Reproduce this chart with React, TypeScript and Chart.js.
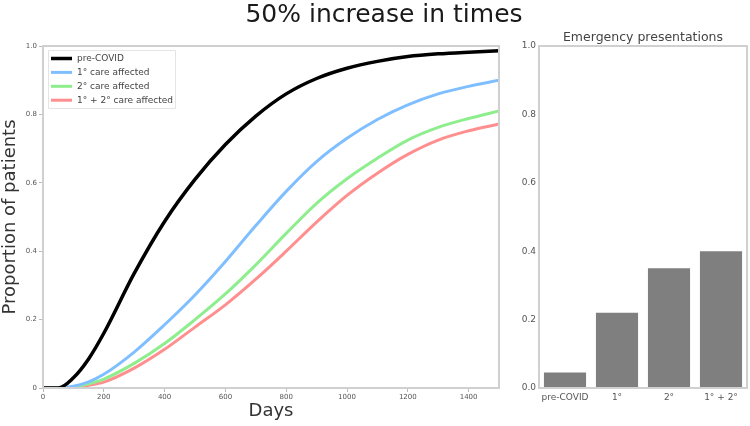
import React, { useEffect, useRef } from 'react';
import { Chart, registerables } from 'chart.js';

Chart.register(...registerables);

const FONT = "'DejaVu Sans', sans-serif";

const chartTitle = '50% increase in times';
const xAxisTitle = 'Days';
const yAxisTitle = 'Proportion of patients';
const barTitle = 'Emergency presentations';

const days = [0, 50, 100, 150, 200, 300, 400, 500, 600, 700, 800, 900, 1000, 1100, 1200, 1300, 1400, 1500];
const preCovid = [0, 0, 0.03, 0.085, 0.16, 0.335, 0.487, 0.61, 0.712, 0.795, 0.86, 0.905, 0.935, 0.955, 0.969, 0.977, 0.982, 0.986];
const primaryAffected = [0, 0, 0.005, 0.018, 0.04, 0.105, 0.185, 0.272, 0.37, 0.475, 0.575, 0.662, 0.73, 0.785, 0.828, 0.86, 0.882, 0.9];
const secondaryAffected = [0, 0, 0.003, 0.012, 0.026, 0.072, 0.13, 0.2, 0.275, 0.36, 0.452, 0.54, 0.612, 0.672, 0.725, 0.762, 0.788, 0.81];
const bothAffected = [0, 0, 0.002, 0.008, 0.017, 0.058, 0.113, 0.178, 0.243, 0.318, 0.4, 0.485, 0.563, 0.628, 0.683, 0.725, 0.752, 0.772];

const seriesLabels = ['pre-COVID', '1° care affected', '2° care affected', '1° + 2° care affected'];
const seriesColors = ['#000000', '#80bfff', '#8eee8e', '#ff8f8f'];
const seriesWidths = [3.5, 3, 3, 3];

const barCategories = ['pre-COVID', '1°', '2°', '1° + 2°'];
const emergencyValues = [0.045, 0.22, 0.35, 0.4];

const framePlugin = {
  id: 'frame',
  afterDatasetsDraw(chart: any) {
    const { left, top, right, bottom } = chart.chartArea;
    const ctx = chart.ctx;
    ctx.save();
    ctx.strokeStyle = '#d0d0d0';
    ctx.lineWidth = 2;
    ctx.strokeRect(left, top, right - left, bottom - top);
    ctx.restore();
  },
};

const insetLegendPlugin = {
  id: 'insetLegend',
  afterDraw(chart: any) {
    const ctx = chart.ctx;
    const { left, top } = chart.chartArea;
    const bx = left + 5;
    const by = top + 4;
    const bw = 127;
    const bh = 58;
    ctx.save();
    ctx.fillStyle = 'rgba(255,255,255,0.85)';
    ctx.strokeStyle = '#e4e4e4';
    ctx.lineWidth = 1;
    ctx.beginPath();
    ctx.rect(bx + 0.5, by + 0.5, bw, bh);
    ctx.fill();
    ctx.stroke();
    ctx.font = `9px ${FONT}`;
    ctx.textBaseline = 'middle';
    ctx.textAlign = 'left';
    chart.data.datasets.forEach((ds: any, i: number) => {
      const y = by + 8.5 + i * 13.9;
      ctx.strokeStyle = ds.borderColor;
      ctx.lineWidth = ds.borderWidth;
      ctx.beginPath();
      ctx.moveTo(bx + 3, y);
      ctx.lineTo(bx + 24, y);
      ctx.stroke();
      ctx.fillStyle = '#444';
      ctx.fillText(ds.label, bx + 29, y);
    });
    ctx.restore();
  },
};

const areaTitlePlugin = {
  id: 'areaTitle',
  afterDraw(chart: any, _args: any, opts: any) {
    const ctx = chart.ctx;
    const { left, right, top } = chart.chartArea;
    ctx.save();
    ctx.font = `12.5px ${FONT}`;
    ctx.fillStyle = '#444';
    ctx.textAlign = 'center';
    ctx.textBaseline = 'middle';
    ctx.fillText(opts.text, (left + right) / 2, top - 8);
    ctx.restore();
  },
};

export default function App() {
  const lineRef = useRef<HTMLCanvasElement | null>(null);
  const barRef = useRef<HTMLCanvasElement | null>(null);

  useEffect(() => {
    const seriesValues = [preCovid, primaryAffected, secondaryAffected, bothAffected];
    const lineChart = new Chart(lineRef.current as HTMLCanvasElement, {
      type: 'line',
      data: {
        datasets: seriesValues.map((vals, i) => ({
          label: seriesLabels[i],
          data: vals.map((v, j) => ({ x: days[j], y: v })),
          borderColor: seriesColors[i],
          backgroundColor: seriesColors[i],
          borderWidth: seriesWidths[i],
          pointRadius: 0,
          cubicInterpolationMode: 'monotone',
          fill: false,
        })),
      },
      options: {
        responsive: false,
        animation: false,
        layout: { padding: { top: 46, right: 11, left: 0, bottom: 0 } },
        plugins: {
          legend: { display: false },
          tooltip: { enabled: false },
        },
        scales: {
          x: {
            type: 'linear',
            min: 0,
            max: 1500,
            afterFit: (s: any) => {
              s.height = 38;
            },
            afterBuildTicks: (s: any) => {
              s.ticks = s.ticks.filter((t: any) => t.value % 200 === 0);
            },
            ticks: {
              stepSize: 200,
              autoSkip: false,
              maxRotation: 0,
              callback: (v: any) => String(v),
              font: { family: FONT, size: 7 },
              color: '#555',
              padding: 1,
            },
            grid: { drawOnChartArea: false, tickLength: 4, color: '#bbbbbb' },
            border: { display: false },
            title: {
              display: true,
              text: xAxisTitle,
              font: { family: FONT, size: 18 },
              color: '#333',
              padding: { top: 0, bottom: 4 },
            },
          },
          y: {
            min: 0,
            max: 1,
            afterFit: (s: any) => {
              s.width = 43;
            },
            ticks: {
              stepSize: 0.2,
              callback: (v: any) => (Number(v) === 0 ? '0' : Number(v).toFixed(1)),
              font: { family: FONT, size: 7 },
              color: '#555',
              padding: 2,
            },
            grid: { drawOnChartArea: false, tickLength: 4, color: '#bbbbbb' },
            border: { display: false },
            title: {
              display: true,
              text: yAxisTitle,
              font: { family: FONT, size: 18 },
              color: '#333',
              padding: { top: 0, bottom: 0 },
            },
          },
        },
      } as any,
      plugins: [framePlugin, insetLegendPlugin],
    });

    const barChart = new Chart(barRef.current as HTMLCanvasElement, {
      type: 'bar',
      data: {
        labels: barCategories,
        datasets: [
          {
            data: emergencyValues,
            backgroundColor: '#7f7f7f',
            barPercentage: 0.81,
            categoryPercentage: 1,
          },
        ],
      },
      options: {
        responsive: false,
        animation: false,
        layout: { padding: { top: 46, right: 3, left: 0, bottom: 0 } },
        plugins: {
          legend: { display: false },
          tooltip: { enabled: false },
          areaTitle: { text: barTitle },
        },
        scales: {
          x: {
            afterFit: (s: any) => {
              s.height = 38;
            },
            grid: { display: false, drawTicks: false },
            border: { display: false },
            ticks: {
              font: { family: FONT, size: 9 },
              color: '#555',
              padding: 4,
              maxRotation: 0,
              autoSkip: false,
            },
          },
          y: {
            min: 0,
            max: 1,
            afterFit: (s: any) => {
              s.width = 29;
            },
            grid: { display: false, drawTicks: false },
            border: { display: false },
            ticks: {
              stepSize: 0.2,
              callback: (v: any) => Number(v).toFixed(1),
              font: { family: FONT, size: 9 },
              color: '#555',
              padding: 3,
            },
          },
        },
      } as any,
      plugins: [framePlugin, areaTitlePlugin],
    });

    return () => {
      lineChart.destroy();
      barChart.destroy();
    };
  }, []);

  return (
    <div
      style={{
        position: 'absolute',
        left: 0,
        top: 0,
        width: 750,
        height: 426,
        background: '#fff',
        overflow: 'hidden',
      }}
    >
      <canvas ref={lineRef} width={510} height={426} style={{ position: 'absolute', left: 0, top: 0 }} />
      <canvas ref={barRef} width={240} height={426} style={{ position: 'absolute', left: 510, top: 0 }} />
      <div
        style={{
          position: 'absolute',
          left: 384,
          top: 0,
          transform: 'translateX(-50%)',
          whiteSpace: 'nowrap',
          fontFamily: FONT,
          fontSize: 25,
          lineHeight: '28px',
          color: '#1a1a1a',
        }}
      >
        {chartTitle}
      </div>
    </div>
  );
}
